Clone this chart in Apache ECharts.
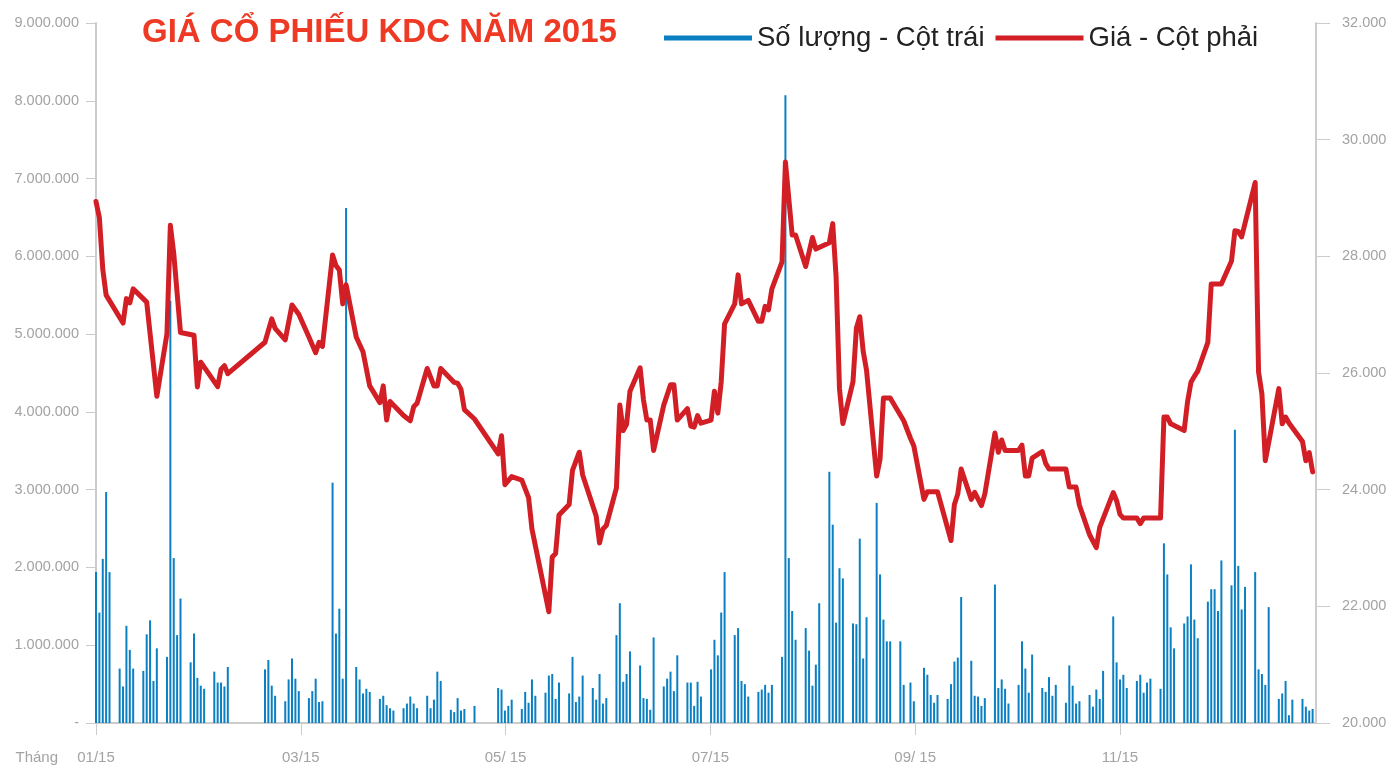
<!DOCTYPE html>
<html>
<head>
<meta charset="utf-8">
<script src="https://cdn.jsdelivr.net/npm/echarts@6/dist/echarts.min.js"></script>
<style>
html, body { margin: 0; padding: 0; background: #fff; }
#main { width: 1390px; height: 775px; }
</style>
</head>
<body>
<div id="main"></div>
<script>
// ngày giao dịch (năm 2015), dạng MM-DD
var volDates = [
  '01-05','01-06','01-07','01-08','01-09', '01-12','01-13','01-14','01-15','01-16',
  '01-19','01-20','01-21','01-22','01-23', '01-26','01-27','01-28','01-29','01-30',
  '02-02','02-03','02-04','02-05','02-06', '02-09','02-10','02-11','02-12','02-13',
  '02-24','02-25','02-26','02-27',
  '03-02','03-03','03-04','03-05','03-06', '03-09','03-10','03-11','03-12','03-13',
  '03-16','03-17','03-18','03-19','03-20', '03-23','03-24','03-25','03-26','03-27',
  '03-30','03-31','04-01','04-02','04-03', '04-06','04-07','04-08','04-09','04-10',
  '04-13','04-14','04-15','04-16','04-17', '04-20','04-21','04-22','04-23','04-24',
  '04-27',
  '05-04','05-05','05-06','05-07','05-08', '05-11','05-12','05-13','05-14','05-15',
  '05-18','05-19','05-20','05-21','05-22', '05-25','05-26','05-27','05-28','05-29',
  '06-01','06-02','06-03','06-04','06-05', '06-08','06-09','06-10','06-11','06-12',
  '06-15','06-16','06-17','06-18','06-19', '06-22','06-23','06-24','06-25','06-26',
  '06-29','06-30','07-01','07-02','07-03', '07-06','07-07','07-08','07-09','07-10',
  '07-13','07-14','07-15','07-16','07-17', '07-20','07-21','07-22','07-23','07-24',
  '07-27','07-28','07-29','07-30','07-31', '08-03','08-04','08-05','08-06','08-07',
  '08-10','08-11','08-12','08-13','08-14', '08-17','08-18','08-19','08-20','08-21',
  '08-24','08-25','08-26','08-27','08-28', '08-31','09-01','09-03','09-04',
  '09-07','09-08','09-09','09-10','09-11', '09-14','09-15','09-16','09-17','09-18',
  '09-21','09-22','09-23','09-24','09-25', '09-28','09-29','09-30','10-01','10-02',
  '10-05','10-06','10-07','10-08','10-09', '10-12','10-13','10-14','10-15','10-16',
  '10-19','10-20','10-21','10-22','10-23', '10-26','10-27','10-28','10-29','10-30',
  '11-02','11-03','11-04','11-05','11-06', '11-09','11-10','11-11','11-12','11-13',
  '11-16','11-17','11-18','11-19','11-20', '11-23','11-24','11-25','11-26','11-27',
  '11-30','12-01','12-02','12-03','12-04', '12-07','12-08','12-09','12-10','12-11',
  '12-14','12-15','12-16','12-17','12-18', '12-21','12-22','12-23','12-24','12-25',
  '12-28','12-29','12-30','12-31'
];

// khối lượng giao dịch (cổ phiếu)
var volumes = [
  1940000,1420000,2110000,2970000,1940000, 700000,470000,1250000,940000,700000,
  670000,1140000,1320000,540000,960000, 850000,5430000,2120000,1130000,1600000,
  780000,1150000,580000,480000,440000, 660000,520000,520000,470000,720000,
  690000,810000,480000,350000,
  280000,560000,830000,570000,410000, 320000,410000,570000,270000,280000,
  3090000,1150000,1470000,570000,6620000, 720000,560000,380000,440000,400000,
  310000,350000,230000,190000,160000, 190000,250000,340000,250000,190000,
  350000,190000,300000,660000,540000, 170000,140000,320000,160000,180000,
  220000,
  450000,430000,160000,220000,300000, 180000,400000,260000,560000,350000,
  390000,610000,630000,310000,520000, 380000,850000,270000,340000,610000,
  450000,300000,630000,250000,320000, 1130000,1540000,530000,630000,920000,
  740000,320000,310000,170000,1100000, 470000,570000,660000,410000,870000,
  520000,520000,220000,530000,340000, 690000,1070000,870000,1420000,1940000,
  1130000,1220000,540000,500000,340000, 400000,430000,490000,390000,490000,
  850000,8070000,2120000,1440000,1070000, 1220000,930000,480000,750000,1540000,
  3230000,2550000,1290000,1990000,1860000, 1280000,1270000,2370000,830000,1360000,
  2830000,1910000,1330000,1050000,1050000, 1050000,490000,520000,280000,
  710000,620000,360000,260000,360000, 310000,500000,790000,840000,1620000,
  800000,350000,340000,220000,320000, 1780000,450000,560000,440000,250000,
  490000,1050000,700000,390000,880000, 450000,400000,590000,350000,490000,
  260000,740000,480000,250000,280000, 360000,210000,430000,310000,670000,
  1370000,780000,560000,620000,450000, 540000,620000,390000,520000,570000,
  440000,2310000,1910000,1230000,960000, 1280000,1370000,2040000,1330000,1090000,
  1560000,1720000,1720000,1440000,2090000, 1770000,3770000,2020000,1460000,1750000,
  1940000,690000,630000,490000,1490000, 310000,380000,540000,100000,300000,
  310000,210000,160000,180000
];

// giá (đồng) tại các điểm đổi hướng của đường giá
var priceDates = [
  '01-05','01-06','01-07','01-08','01-13','01-14','01-15','01-16','01-20','01-23',
  '01-26','01-27','01-28','01-30','02-03','02-04','02-05','02-10','02-11','02-12',
  '02-13','02-24','02-26','02-27','03-02','03-04','03-06','03-09','03-11','03-12',
  '03-13','03-16','03-17','03-18','03-19','03-20','03-23','03-25','03-27','03-30',
  '03-31','04-01','04-02','04-06','04-08','04-09','04-10','04-13','04-15','04-16',
  '04-17','04-21','04-22','04-23','04-24','04-27','05-04','05-05','05-06','05-08',
  '05-11','05-13','05-14','05-19','05-20','05-21','05-22','05-25','05-26','05-28',
  '05-29','06-02','06-03','06-04','06-05','06-08','06-09','06-10','06-11','06-12',
  '06-15','06-16','06-17','06-18','06-19','06-22','06-24','06-25','06-26','06-29',
  '06-30','07-01','07-02','07-03','07-06','07-07','07-08','07-09','07-10','07-13',
  '07-14','07-15','07-17','07-20','07-21','07-22','07-23','07-24','07-27','07-28',
  '07-30','07-31','08-03','08-05','08-06','08-10','08-11','08-12','08-13','08-14',
  '08-17','08-18','08-19','08-20','08-21','08-24','08-25','08-26','08-28','09-01',
  '09-03','09-04','09-07','09-08','09-11','09-15','09-16','09-17','09-18','09-21',
  '09-22','09-24','09-25','09-28','09-29','09-30','10-01','10-05','10-06','10-07',
  '10-08','10-09','10-12','10-13','10-14','10-19','10-20','10-22','10-23','10-26',
  '10-28','10-29','11-02','11-03','11-04','11-05','11-09','11-10','11-11','11-16',
  '11-17','11-18','11-19','11-23','11-24','11-25','11-26','11-27','11-30','12-01',
  '12-04','12-07','12-08','12-09','12-10','12-14','12-15','12-16','12-17','12-21',
  '12-22','12-23','12-24','12-28','12-29','12-30','12-31'
];
var prices = [
  28940,28660,27780,27335,26856,27275,27203,27442,27215,25600,
  26676,28531,28053,26694,26647,25761,26186,25767,26066,26126,
  25988,26527,26928,26766,26569,27167,27006,26617,26347,26527,
  26455,28023,27843,27765,27185,27514,26617,26365,25779,25492,
  25779,25193,25510,25270,25181,25420,25480,26078,25779,25779,
  26078,25839,25827,25719,25372,25211,24612,24923,24086,24224,
  24164,23865,23326,21908,22847,22907,23565,23745,24331,24642,
  24253,23547,23087,23326,23386,24032,25450,25013,25121,25689,
  26090,25540,25193,25193,24672,25450,25797,25797,25193,25390,
  25091,25073,25270,25139,25193,25689,25312,25851,26844,27185,
  27682,27185,27245,26886,26886,27143,27083,27442,27903,29617,
  28364,28364,27825,28322,28124,28232,28561,27646,25731,25133,
  25851,26766,26964,26377,26048,24236,24523,25570,25570,25181,
  24881,24750,23834,23966,23966,23129,23745,23924,24355,23834,
  23954,23727,23924,24971,24642,24852,24672,24672,24762,24236,
  24236,24540,24654,24451,24355,24355,24044,24044,23733,23227,
  23005,23354,23950,23811,23576,23513,23513,23418,23513,23513,
  25244,25244,25130,25016,25510,25840,25942,26031,26525,27527,
  27527,27920,28440,28428,28333,29265,26018,25637,24496,25732,
  25130,25244,25143,24826,24496,24635,24305
];

var tickDays = [0, 60.6, 121.2, 181.8, 242.4, 303];
var tickLabels = ['01/15', '03/15', '05/ 15', '07/15', '09/ 15', '11/15'];

var volumeName = 'Số lượng - Cột trái';
var priceName = 'Giá - Cột phải';

// số ngày kể từ phiên đầu năm (05/01/2015)
function dayIndex(md) {
  var p = md.split('-');
  return (Date.UTC(2015, +p[0] - 1, +p[1]) - Date.UTC(2015, 0, 5)) / 86400000;
}

function dotted(v) {
  if (v === 0) return '-';
  return String(v).replace(/\B(?=(\d{3})+(?!\d))/g, '.');
}

var axisFont = "'Liberation Sans', Arial, sans-serif";
var axisGray = '#a3a3a3';
var lineGray = '#cccccc';

var option = {
  animation: false,
  backgroundColor: '#fff',
  title: {
    text: 'GIÁ CỔ PHIẾU KDC NĂM 2015',
    left: 137,
    top: 11,
    textStyle: {
      color: '#ee3a25',
      fontFamily: "'Liberation Sans', Arial, sans-serif",
      fontWeight: 'bold',
      fontSize: 33
    }
  },
  legend: {
    left: 659,
    top: 19,
    itemWidth: 88,
    itemHeight: 5,
    itemGap: 11,
    textStyle: {
      color: '#222',
      fontFamily: "'Liberation Sans', Arial, sans-serif",
      fontSize: 27.5
    },
    data: [
      { name: volumeName, icon: 'rect' },
      { name: priceName, icon: 'rect' }
    ]
  },
  grid: { left: 96, right: 74, top: 23, bottom: 52, outerBoundsMode: 'none' },
  xAxis: {
    type: 'value',
    min: 0,
    max: 361,
    name: 'Tháng',
    nameLocation: 'start',
    nameGap: 38,
    nameTextStyle: {
      color: axisGray,
      fontFamily: axisFont,
      fontSize: 15,
      verticalAlign: 'top',
      padding: [27, 0, 0, 0]
    },
    splitLine: { show: false },
    axisLine: { show: true, lineStyle: { color: lineGray, width: 2 } },
    axisTick: {
      show: true,
      customValues: tickDays,
      length: 12,
      lineStyle: { color: lineGray, width: 1 }
    },
    axisLabel: {
      customValues: tickDays,
      margin: 27,
      color: axisGray,
      fontFamily: axisFont,
      fontSize: 15,
      formatter: function (v) {
        var i = tickDays.indexOf(v);
        return i >= 0 ? tickLabels[i] : '';
      }
    }
  },
  yAxis: [
    {
      type: 'value',
      min: 0,
      max: 9000000,
      interval: 1000000,
      position: 'left',
      splitLine: { show: false },
      axisLine: { show: true, lineStyle: { color: lineGray, width: 2 } },
      axisTick: { show: true, length: 10, lineStyle: { color: lineGray } },
      axisLabel: {
        margin: 17,
        color: axisGray,
        fontFamily: axisFont,
        fontSize: 14.5,
        formatter: dotted
      }
    },
    {
      type: 'value',
      min: 20000,
      max: 32000,
      interval: 2000,
      position: 'right',
      splitLine: { show: false },
      axisLine: { show: true, lineStyle: { color: lineGray, width: 2 } },
      axisTick: { show: true, length: 14, lineStyle: { color: lineGray } },
      axisLabel: {
        margin: 26,
        color: axisGray,
        fontFamily: axisFont,
        fontSize: 14.5,
        formatter: dotted
      }
    }
  ],
  series: [
    {
      name: volumeName,
      type: 'bar',
      yAxisIndex: 0,
      barWidth: 2,
      itemStyle: { color: '#0a80c3' },
      data: volDates.map(function (d, i) { return [dayIndex(d), volumes[i]]; })
    },
    {
      name: priceName,
      type: 'line',
      yAxisIndex: 1,
      symbol: 'none',
      z: 5,
      itemStyle: { color: '#d21f26' },
      lineStyle: { color: '#d21f26', width: 5, join: 'round', cap: 'round' },
      data: priceDates.map(function (d, i) { return [dayIndex(d), prices[i]]; })
    }
  ]
};

var myChart = echarts.init(document.getElementById('main'));
myChart.setOption(option);
</script>
</body>
</html>
